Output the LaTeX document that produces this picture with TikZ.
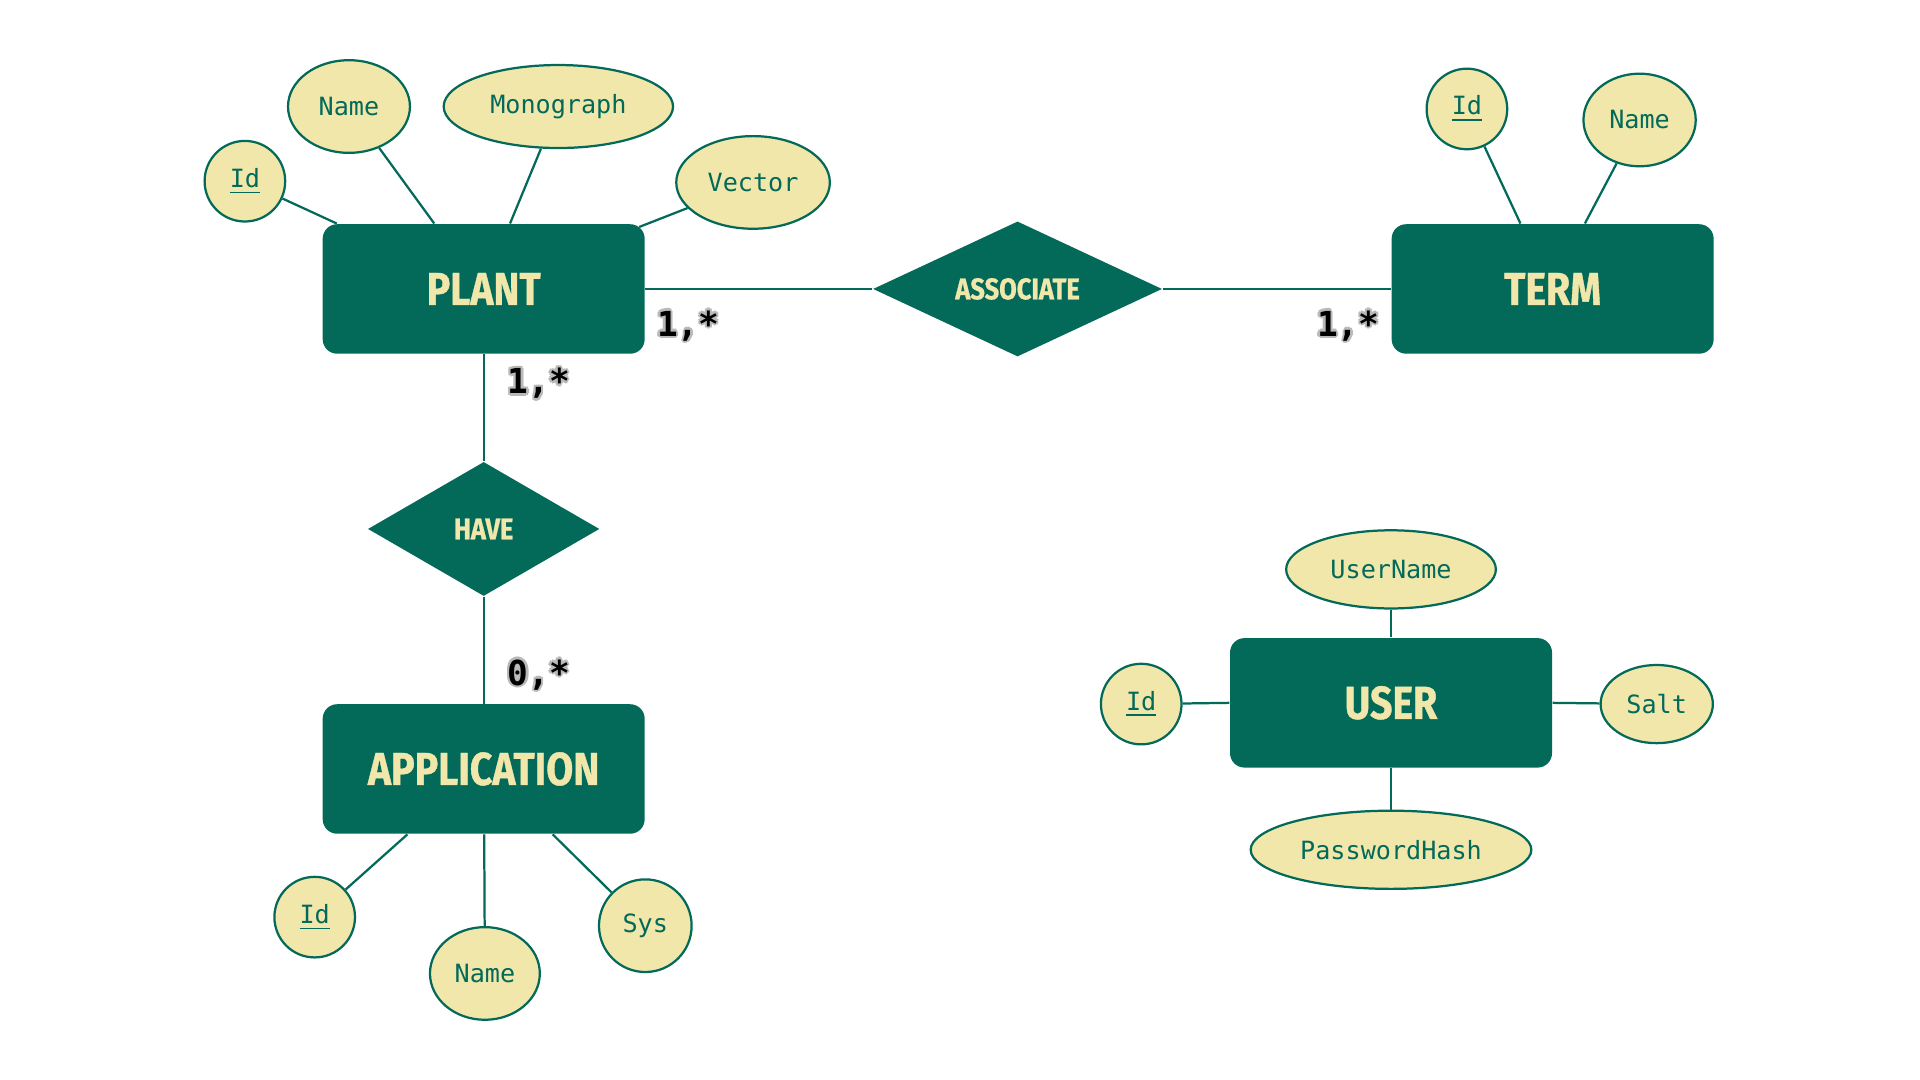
\documentclass[tikz,border=0pt]{standalone}
\usepackage{fontspec}
\usetikzlibrary{shapes.geometric}
\setmonofont{DejaVu Sans Mono}
\newfontfamily\titlefont[FakeStretch=0.85,FakeBold=0.8]{Fira Sans}
\definecolor{ergreen}{RGB}{3,106,90}
\definecolor{ercream}{RGB}{242,231,171}
\definecolor{halo}{RGB}{185,185,185}
\newcommand\halotext[1]{%
  \rlap{\color{halo}\hspace{-0.7pt}#1}%
  \rlap{\color{halo}\hspace{0.7pt}#1}%
  \rlap{\color{halo}\raisebox{0.7pt}{#1}}%
  \rlap{\color{halo}\raisebox{-0.7pt}{#1}}%
  \rlap{\color{halo}\hspace{0.5pt}\raisebox{0.5pt}{#1}}%
  \rlap{\color{halo}\hspace{-0.5pt}\raisebox{-0.5pt}{#1}}%
  \rlap{\color{halo}\hspace{0.5pt}\raisebox{-0.5pt}{#1}}%
  \rlap{\color{halo}\hspace{-0.5pt}\raisebox{0.5pt}{#1}}%
  #1}
\begin{document}
\begin{tikzpicture}[x=0.0125cm,y=-0.0125cm,
  conn/.style={draw=ergreen,line width=0.65pt},
  entity/.style={rectangle, rounded corners=4.2pt, fill=ergreen, minimum width=93.5pt, minimum height=37.6pt, inner sep=0pt, text=ercream, font=\titlefont\bfseries\fontsize{13.4}{15}\selectfont},
  relation/.style={diamond, aspect=2.1, fill=ergreen, inner sep=0pt, text=ercream, font=\titlefont\bfseries\fontsize{8.7}{10}\selectfont},
  attr/.style={ellipse, draw=ergreen, line width=0.65pt, fill=ercream, inner sep=0pt, text=ergreen, font=\ttfamily\fontsize{7.3}{8.5}\selectfont},
  card/.style={inner sep=0pt, text=black, font=\ttfamily\bfseries\fontsize{10}{12}\selectfont}]
\path[use as bounding box, fill=white] (0,0) rectangle (1568,882);

% entities
\node[entity] (plant) at (395,236) {\raisebox{-0.6pt}{PLANT}};
\node[entity] (term) at (1268,236) {\raisebox{-0.6pt}{TERM}};
\node[entity] (app) at (395,628) {\raisebox{-0.6pt}{APPLICATION}};
\node[entity] (user) at (1136,574) {\raisebox{-0.6pt}{USER}};

% relations
\node[relation, minimum width=84pt, minimum height=39.3pt] (assoc) at (831,236) {ASSOCIATE};
\node[relation, minimum width=67.3pt, minimum height=39pt] (have) at (395,432) {HAVE};

% plant attributes
\node[attr, minimum width=23.4pt, minimum height=23.4pt] (pid) at (200,148) {\underline{Id}};
\node[attr, minimum width=35.4pt, minimum height=26.9pt] (pname) at (285,87) {Name};
\node[attr, minimum width=66.6pt, minimum height=24.1pt] (pmono) at (456,87) {Monograph};
\node[attr, minimum width=44.6pt, minimum height=26.9pt] (pvec) at (615,149) {Vector};

% term attributes
\node[attr, minimum width=23.4pt, minimum height=23.4pt] (tid) at (1198,89) {\underline{Id}};
\node[attr, minimum width=32.6pt, minimum height=26.9pt] (tname) at (1339,98) {Name};

% user attributes
\node[attr, minimum width=60.9pt, minimum height=22.7pt] (uname) at (1136,465) {UserName};
\node[attr, minimum width=23.4pt, minimum height=23.4pt] (uid) at (932,575) {\underline{Id}};
\node[attr, minimum width=32.6pt, minimum height=22.7pt] (usalt) at (1353,575) {Salt};
\node[attr, minimum width=81.5pt, minimum height=22.7pt] (upass) at (1136,694) {PasswordHash};

% application attributes
\node[attr, minimum width=23.4pt, minimum height=23.4pt] (aid) at (257,749) {\underline{Id}};
\node[attr, minimum width=31.9pt, minimum height=26.9pt] (aname) at (396,795) {Name};
\node[attr, minimum width=26.9pt, minimum height=26.9pt] (asys) at (527,756) {Sys};

% connectors
\draw[conn] (plant.east) -- (assoc.west);
\draw[conn] (assoc.east) -- (term.west);
\draw[conn] (plant.south) -- (have.north);
\draw[conn] (have.south) -- (app.north);

\draw[conn] (pid) -- ([xshift=4.3pt]plant.north west);
\draw[conn] (pname) -- ([xshift=32.6pt]plant.north west);
\draw[conn] (pmono) -- ([xshift=54.6pt]plant.north west);
\draw[conn] (pvec) -- ([xshift=-1.8pt,yshift=-1pt]plant.north east);

\draw[conn] (tid) -- ([xshift=37.6pt]term.north west);
\draw[conn] (tname) -- ([xshift=56.3pt]term.north west);

\draw[conn] (uname) -- (user.north);
\draw[conn] (upass) -- (user.south);
\draw[conn] (uid) -- (user.west);
\draw[conn] (usalt) -- (user.east);

\draw[conn] (aid) -- ([xshift=24.8pt]app.south west);
\draw[conn] (aname) -- ([xshift=47.1pt]app.south west);
\draw[conn] (asys) -- ([xshift=67pt]app.south west);

% cardinalities
\node[card] (c1) at (562,266) {\halotext{1,*}};
\node[card] (c2) at (1101,266) {\halotext{1,*}};
\node[card] (c3) at (440,313) {\halotext{1,*}};
\node[card] (c4) at (440,551) {\halotext{0,*}};
\end{tikzpicture}
\end{document}
